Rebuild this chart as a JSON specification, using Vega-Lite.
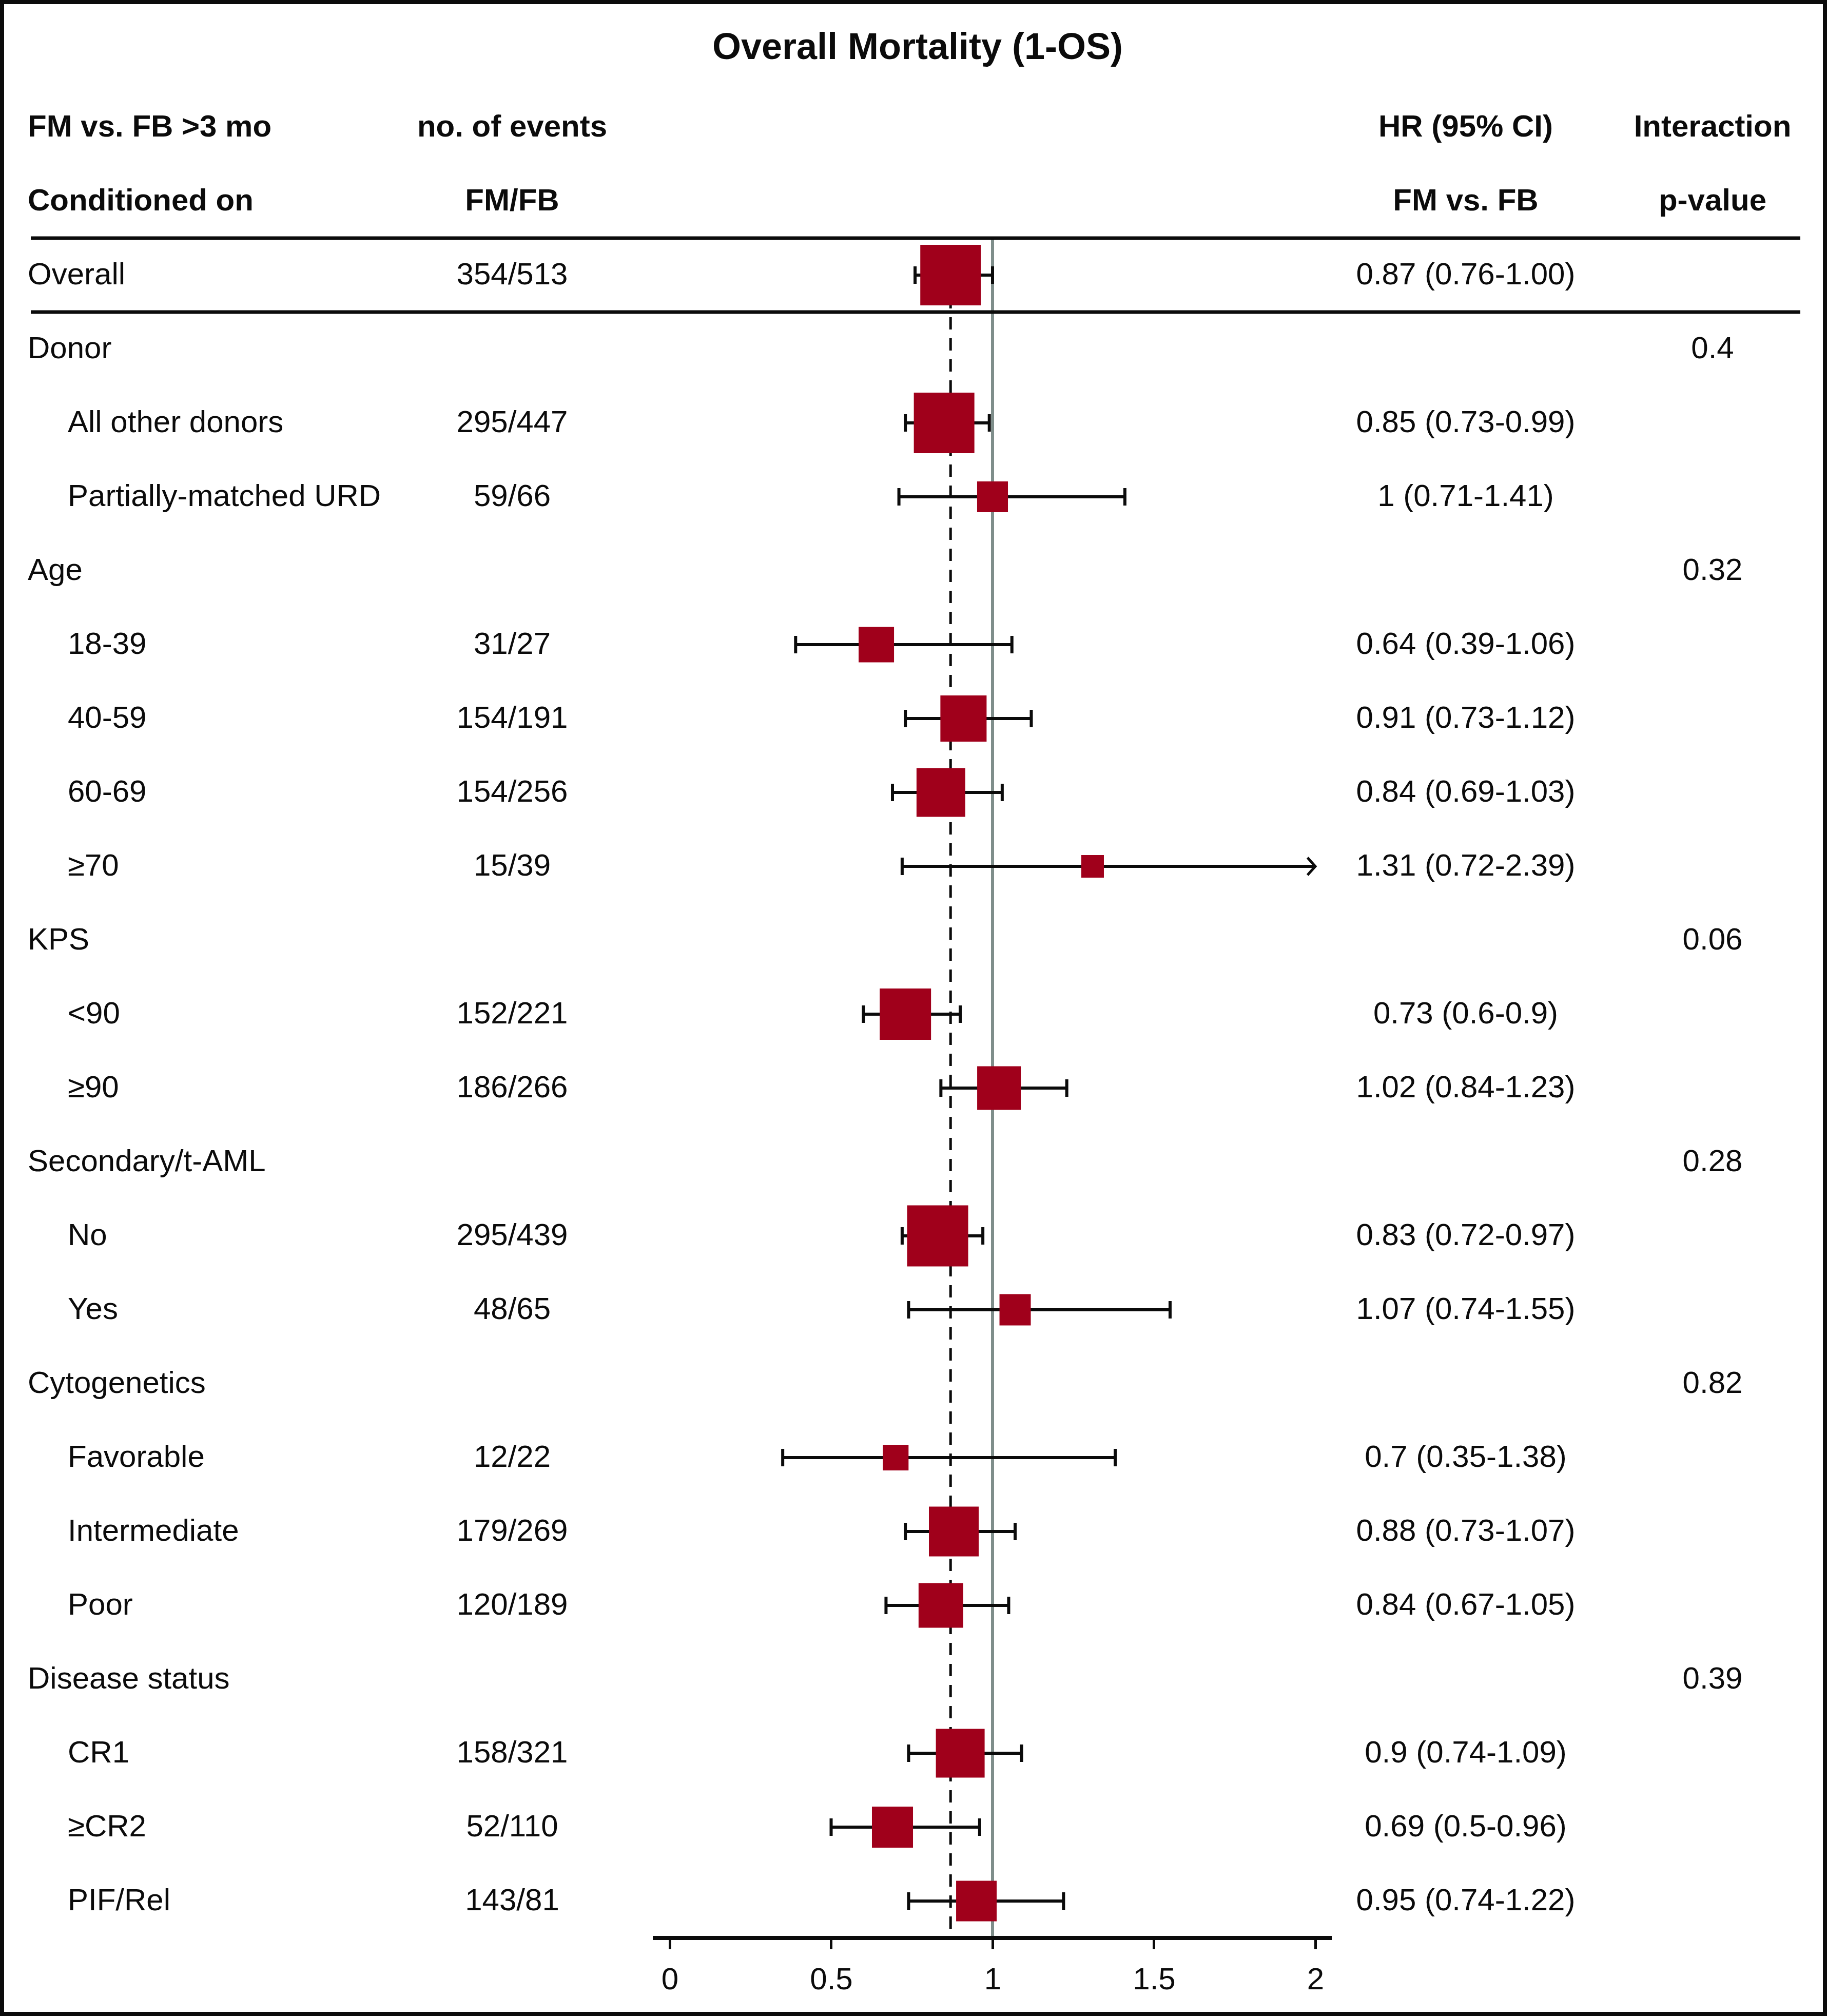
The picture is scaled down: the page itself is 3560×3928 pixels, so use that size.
{
  "$schema": "https://vega.github.io/schema/vega-lite/v6.json",
  "width": 3560,
  "height": 3928,
  "padding": 0,
  "autosize": {"type": "none"},
  "background": "white",
  "config": {
    "view": {"stroke": "#0b0b0b", "strokeWidth": 16},
    "font": "Liberation Sans",
    "text": {"font": "Liberation Sans", "fontSize": 60, "color": "#0b0b0b", "baseline": "middle"}
  },
  "datasets": {
    "table": [
      {"row": "Overall", "level": "top", "events": "354/513", "hr": 0.87, "lo": 0.76, "hi": 1.00, "ci": "0.87 (0.76-1.00)", "p": null, "w": 100},
      {"row": "Donor", "level": "group", "events": null, "hr": null, "lo": null, "hi": null, "ci": null, "p": "0.4", "w": null},
      {"row": "All other donors", "level": "sub", "events": "295/447", "hr": 0.85, "lo": 0.73, "hi": 0.99, "ci": "0.85 (0.73-0.99)", "p": null, "w": 100},
      {"row": "Partially-matched URD", "level": "sub", "events": "59/66", "hr": 1.0, "lo": 0.71, "hi": 1.41, "ci": "1 (0.71-1.41)", "p": null, "w": 25.9},
      {"row": "Age", "level": "group", "events": null, "hr": null, "lo": null, "hi": null, "ci": null, "p": "0.32", "w": null},
      {"row": "18-39", "level": "sub", "events": "31/27", "hr": 0.64, "lo": 0.39, "hi": 1.06, "ci": "0.64 (0.39-1.06)", "p": null, "w": 34.2},
      {"row": "40-59", "level": "sub", "events": "154/191", "hr": 0.91, "lo": 0.73, "hi": 1.12, "ci": "0.91 (0.73-1.12)", "p": null, "w": 58.2},
      {"row": "60-69", "level": "sub", "events": "154/256", "hr": 0.84, "lo": 0.69, "hi": 1.03, "ci": "0.84 (0.69-1.03)", "p": null, "w": 64.8},
      {"row": "≥70", "level": "sub", "events": "15/39", "hr": 1.31, "lo": 0.72, "hi": 2.39, "ci": "1.31 (0.72-2.39)", "p": null, "w": 13.9},
      {"row": "KPS", "level": "group", "events": null, "hr": null, "lo": null, "hi": null, "ci": null, "p": "0.06", "w": null},
      {"row": "<90", "level": "sub", "events": "152/221", "hr": 0.73, "lo": 0.6, "hi": 0.9, "ci": "0.73 (0.6-0.9)", "p": null, "w": 71.8},
      {"row": "≥90", "level": "sub", "events": "186/266", "hr": 1.02, "lo": 0.84, "hi": 1.23, "ci": "1.02 (0.84-1.23)", "p": null, "w": 51.9},
      {"row": "Secondary/t-AML", "level": "group", "events": null, "hr": null, "lo": null, "hi": null, "ci": null, "p": "0.28", "w": null},
      {"row": "No", "level": "sub", "events": "295/439", "hr": 0.83, "lo": 0.72, "hi": 0.97, "ci": "0.83 (0.72-0.97)", "p": null, "w": 101.7},
      {"row": "Yes", "level": "sub", "events": "48/65", "hr": 1.07, "lo": 0.74, "hi": 1.55, "ci": "1.07 (0.74-1.55)", "p": null, "w": 26.7},
      {"row": "Cytogenetics", "level": "group", "events": null, "hr": null, "lo": null, "hi": null, "ci": null, "p": "0.82", "w": null},
      {"row": "Favorable", "level": "sub", "events": "12/22", "hr": 0.7, "lo": 0.35, "hi": 1.38, "ci": "0.7 (0.35-1.38)", "p": null, "w": 18.0},
      {"row": "Intermediate", "level": "sub", "events": "179/269", "hr": 0.88, "lo": 0.73, "hi": 1.07, "ci": "0.88 (0.73-1.07)", "p": null, "w": 67.6},
      {"row": "Poor", "level": "sub", "events": "120/189", "hr": 0.84, "lo": 0.67, "hi": 1.05, "ci": "0.84 (0.67-1.05)", "p": null, "w": 54.4},
      {"row": "Disease status", "level": "group", "events": null, "hr": null, "lo": null, "hi": null, "ci": null, "p": "0.39", "w": null},
      {"row": "CR1", "level": "sub", "events": "158/321", "hr": 0.9, "lo": 0.74, "hi": 1.09, "ci": "0.9 (0.74-1.09)", "p": null, "w": 64.8},
      {"row": "≥CR2", "level": "sub", "events": "52/110", "hr": 0.69, "lo": 0.5, "hi": 0.96, "ci": "0.69 (0.5-0.96)", "p": null, "w": 46.0},
      {"row": "PIF/Rel", "level": "sub", "events": "143/81", "hr": 0.95, "lo": 0.74, "hi": 1.22, "ci": "0.95 (0.74-1.22)", "p": null, "w": 44.8}
    ],
    "headers": [
      {"row": "h1", "c1": "FM vs. FB >3 mo", "c2": "no. of events", "c3": "HR (95% CI)", "c4": "Interaction"},
      {"row": "h2", "c1": "Conditioned on", "c2": "FM/FB", "c3": "FM vs. FB", "c4": "p-value"}
    ],
    "titles": [
      {"row": "title", "text": "Overall Mortality (1-OS)"}
    ]
  },
  "data": {"name": "table"},
  "encoding": {
    "y": {
      "field": "row",
      "type": "nominal",
      "bandPosition": 0.5,
      "axis": null,
      "scale": {
        "type": "band",
        "domain": ["title", "h1", "h2", "Overall", "Donor", "All other donors", "Partially-matched URD", "Age", "18-39", "40-59", "60-69", "≥70", "KPS", "<90", "≥90", "Secondary/t-AML", "No", "Yes", "Cytogenetics", "Favorable", "Intermediate", "Poor", "Disease status", "CR1", "≥CR2", "PIF/Rel"],
        "paddingInner": 0,
        "paddingOuter": 0.6389,
        "align": 0.1739
      }
    }
  },
  "layer": [
    {
      "transform": [{"filter": "datum.row === 'Overall'"}],
      "mark": {"type": "rule", "color": "#7f8e8b", "strokeWidth": 6},
      "encoding": {
        "x": {
          "datum": 1,
          "type": "quantitative",
          "scale": {"domain": [-2.07472, 3.58506], "nice": false, "zero": false},
          "axis": {
            "values": [0, 0.5, 1, 1.5, 2],
            "format": "~g",
            "domain": false,
            "grid": false,
            "title": null,
            "offset": -152,
            "tickSize": 21,
            "tickWidth": 5,
            "tickColor": "#0b0b0b",
            "labelFont": "Liberation Sans",
            "labelFontSize": 60,
            "labelColor": "#0b0b0b",
            "labelPadding": 31,
            "labelFlush": false,
            "labelOverlap": false
          }
        },
        "y": {"field": "row", "type": "nominal", "bandPosition": 0},
        "y2": {"datum": "PIF/Rel", "bandPosition": 1}
      }
    },
    {
      "transform": [{"filter": "datum.row === 'Overall'"}],
      "mark": {"type": "rule", "color": "#0b0b0b", "strokeWidth": 5, "strokeDash": [24, 17]},
      "encoding": {
        "x": {"field": "hr", "type": "quantitative"},
        "y": {"field": "row", "type": "nominal", "bandPosition": 0.5},
        "y2": {"datum": "PIF/Rel", "bandPosition": 1}
      }
    },
    {
      "transform": [{"filter": "datum.hi != null && datum.hi <= 2"}],
      "mark": {"type": "rule", "color": "#0b0b0b", "strokeWidth": 6},
      "encoding": {
        "x": {"field": "lo", "type": "quantitative"},
        "x2": {"field": "hi"}
      }
    },
    {
      "transform": [{"filter": "datum.hi != null && datum.hi > 2"}],
      "mark": {"type": "rule", "color": "#0b0b0b", "strokeWidth": 6},
      "encoding": {
        "x": {"field": "lo", "type": "quantitative"},
        "x2": {"datum": 2}
      }
    },
    {
      "transform": [{"filter": "datum.lo != null"}],
      "mark": {"type": "tick", "orient": "vertical", "size": 34, "thickness": 6, "color": "#0b0b0b", "opacity": 1},
      "encoding": {
        "x": {"field": "lo", "type": "quantitative"}
      }
    },
    {
      "transform": [{"filter": "datum.hi != null && datum.hi <= 2"}],
      "mark": {"type": "tick", "orient": "vertical", "size": 34, "thickness": 6, "color": "#0b0b0b", "opacity": 1},
      "encoding": {
        "x": {"field": "hi", "type": "quantitative"}
      }
    },
    {
      "transform": [{"filter": "datum.hi != null && datum.hi > 2"}],
      "mark": {"type": "point", "shape": "M-0.9,-1L0,0L-0.9,1", "filled": false, "stroke": "#0b0b0b", "strokeWidth": 5, "size": 1156, "opacity": 1},
      "encoding": {
        "x": {"datum": 2}
      }
    },
    {
      "transform": [{"filter": "datum.hr != null"}],
      "mark": {"type": "point", "shape": "square", "filled": true, "color": "#a0001b", "opacity": 1, "strokeWidth": 0},
      "encoding": {
        "x": {"field": "hr", "type": "quantitative"},
        "size": {"field": "w", "type": "quantitative", "scale": {"domain": [0, 100], "range": [0, 13924]}, "legend": null}
      }
    },
    {
      "transform": [{"filter": "datum.row === 'Overall'"}],
      "mark": {"type": "rule", "color": "#0b0b0b", "strokeWidth": 8},
      "encoding": {
        "x": {"datum": -0.05246},
        "x2": {"datum": 2.05087},
        "y": {"datum": "PIF/Rel", "type": "nominal", "bandPosition": 1}
      }
    },
    {
      "transform": [{"filter": "datum.row === 'Overall'"}],
      "mark": {"type": "rule", "color": "#0b0b0b", "strokeWidth": 7},
      "encoding": {
        "x": {"datum": -1.97933},
        "x2": {"datum": 3.50238},
        "y": {"field": "row", "type": "nominal", "bandPosition": 0}
      }
    },
    {
      "transform": [{"filter": "datum.row === 'Overall'"}],
      "mark": {"type": "rule", "color": "#0b0b0b", "strokeWidth": 7},
      "encoding": {
        "x": {"datum": -1.97933},
        "x2": {"datum": 3.50238},
        "y": {"field": "row", "type": "nominal", "bandPosition": 1}
      }
    },
    {
      "transform": [{"filter": "datum.level !== 'sub'"}],
      "mark": {"type": "text", "align": "left"},
      "encoding": {
        "x": {"datum": -1.98887},
        "text": {"field": "row"}
      }
    },
    {
      "transform": [{"filter": "datum.level === 'sub'"}],
      "mark": {"type": "text", "align": "left"},
      "encoding": {
        "x": {"datum": -1.86486},
        "text": {"field": "row"}
      }
    },
    {
      "transform": [{"filter": "datum.events != null"}],
      "mark": {"type": "text", "align": "center"},
      "encoding": {
        "x": {"datum": -0.48808},
        "text": {"field": "events"}
      }
    },
    {
      "transform": [{"filter": "datum.ci != null"}],
      "mark": {"type": "text", "align": "center"},
      "encoding": {
        "x": {"datum": 2.46582},
        "text": {"field": "ci"}
      }
    },
    {
      "transform": [{"filter": "datum.p != null"}],
      "mark": {"type": "text", "align": "center"},
      "encoding": {
        "x": {"datum": 3.23052},
        "text": {"field": "p"}
      }
    },
    {
      "data": {"name": "headers"},
      "mark": {"type": "text", "align": "left", "fontWeight": "bold"},
      "encoding": {
        "x": {"datum": -1.98887},
        "text": {"field": "c1"}
      }
    },
    {
      "data": {"name": "headers"},
      "mark": {"type": "text", "align": "center", "fontWeight": "bold"},
      "encoding": {
        "x": {"datum": -0.48808},
        "text": {"field": "c2"}
      }
    },
    {
      "data": {"name": "headers"},
      "mark": {"type": "text", "align": "center", "fontWeight": "bold"},
      "encoding": {
        "x": {"datum": 2.46582},
        "text": {"field": "c3"}
      }
    },
    {
      "data": {"name": "headers"},
      "mark": {"type": "text", "align": "center", "fontWeight": "bold"},
      "encoding": {
        "x": {"datum": 3.23052},
        "text": {"field": "c4"}
      }
    },
    {
      "data": {"name": "titles"},
      "mark": {"type": "text", "align": "center", "fontWeight": "bold", "fontSize": 72, "dy": -11},
      "encoding": {
        "x": {"datum": 0.76789},
        "text": {"field": "text"}
      }
    }
  ]
}
